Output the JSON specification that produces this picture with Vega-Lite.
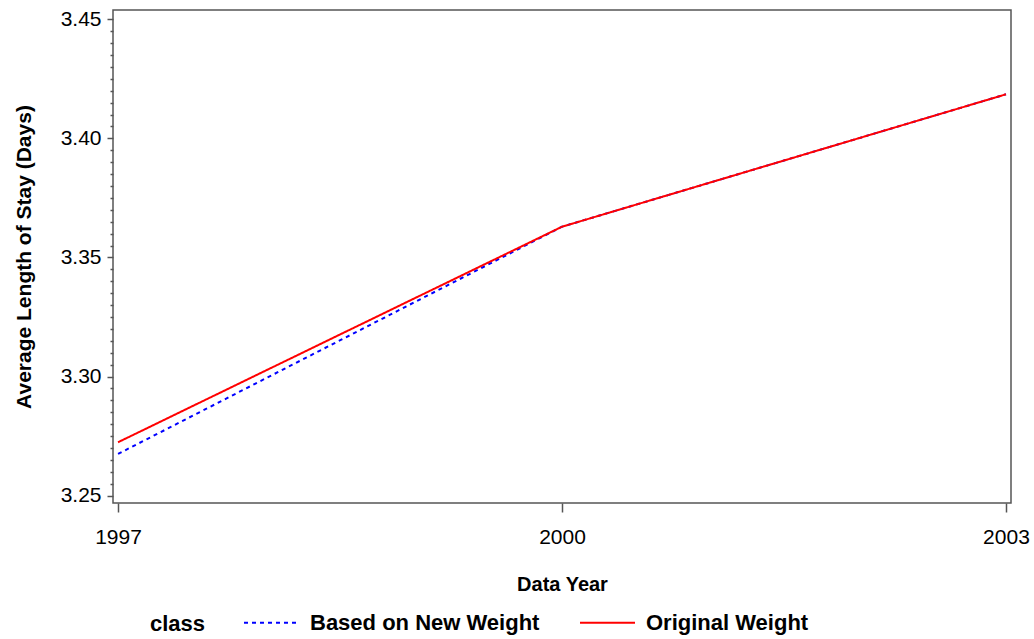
{
  "$schema": "https://vega.github.io/schema/vega-lite/v6.json",
  "width": 898,
  "height": 493,
  "autosize": {"type": "none"},
  "padding": {"left": 113, "top": 10, "right": 23, "bottom": 136},
  "background": "white",
  "config": {
    "view": {"stroke": "#555555", "strokeWidth": 1.5},
    "font": "Liberation Sans"
  },
  "data": {
    "values": [
      {"year": 1997, "value": 3.2675, "class": "Based on New Weight"},
      {"year": 2000, "value": 3.3629, "class": "Based on New Weight"},
      {"year": 2003, "value": 3.4185, "class": "Based on New Weight"},
      {"year": 1997, "value": 3.2724, "class": "Original Weight"},
      {"year": 2000, "value": 3.3629, "class": "Original Weight"},
      {"year": 2003, "value": 3.4185, "class": "Original Weight"}
    ]
  },
  "mark": {"type": "line", "strokeWidth": 2, "clip": true},
  "encoding": {
    "x": {
      "field": "year",
      "type": "quantitative",
      "scale": {"domain": [1996.966, 2003.034], "nice": false, "zero": false},
      "axis": {
        "title": "Data Year",
        "values": [1997, 2000, 2003],
        "format": "d",
        "grid": false,
        "domain": false,
        "tickColor": "#555555",
        "tickWidth": 1.5,
        "tickSize": 9,
        "labelFontSize": 21,
        "labelColor": "black",
        "labelPadding": 14,
        "labelFlush": false,
        "labelOverlap": false,
        "titleFontSize": 20,
        "titleFontWeight": "bold",
        "titleColor": "black",
        "titlePadding": 27
      }
    },
    "y": {
      "field": "value",
      "type": "quantitative",
      "scale": {"domain": [3.2469, 3.4539], "nice": false, "zero": false},
      "axis": {
        "title": "Average Length of Stay (Days)",
        "values": [3.25, 3.255, 3.26, 3.265, 3.27, 3.275, 3.28, 3.285, 3.29, 3.295, 3.3, 3.305, 3.31, 3.315, 3.32, 3.325, 3.33, 3.335, 3.34, 3.345, 3.35, 3.355, 3.36, 3.365, 3.37, 3.375, 3.38, 3.385, 3.39, 3.395, 3.4, 3.405, 3.41, 3.415, 3.42, 3.425, 3.43, 3.435, 3.44, 3.445, 3.45],
        "labelExpr": "round(datum.value * 1000) % 50 == 0 ? format(datum.value, '.2f') : ''",
        "tickSize": {"condition": {"test": "round(datum.value * 1000) % 50 == 0", "value": 6}, "value": 3},
        "grid": false,
        "domain": false,
        "tickColor": "#555555",
        "tickWidth": 1.5,
        "labelFontSize": 21,
        "labelColor": "black",
        "labelPadding": 6,
        "labelOverlap": false,
        "labelFlush": false,
        "titleFontSize": 21,
        "titleFontWeight": "bold",
        "titleColor": "black",
        "titlePadding": 26
      }
    },
    "color": {
      "field": "class",
      "type": "nominal",
      "scale": {"domain": ["Based on New Weight", "Original Weight"], "range": ["#0000ff", "#ff0000"]},
      "legend": {
        "title": "class",
        "orient": "none",
        "legendX": 37,
        "legendY": 584,
        "direction": "horizontal",
        "titleOrient": "left",
        "titleAnchor": "middle",
        "titleBaseline": "top",
        "titleFontSize": 22,
        "titleFontWeight": "bold",
        "titleColor": "black",
        "titlePadding": 37,
        "labelFontSize": 22,
        "labelFontWeight": "bold",
        "labelColor": "black",
        "labelOffset": 10,
        "labelLimit": 400,
        "columnPadding": 36,
        "symbolType": "stroke",
        "symbolSize": 3025,
        "symbolStrokeWidth": 2
      }
    },
    "strokeDash": {
      "field": "class",
      "type": "nominal",
      "scale": {"domain": ["Based on New Weight", "Original Weight"], "range": [[4, 4], [1, 0]]},
      "legend": null
    },
    "order": {"field": "class", "type": "nominal"}
  }
}
